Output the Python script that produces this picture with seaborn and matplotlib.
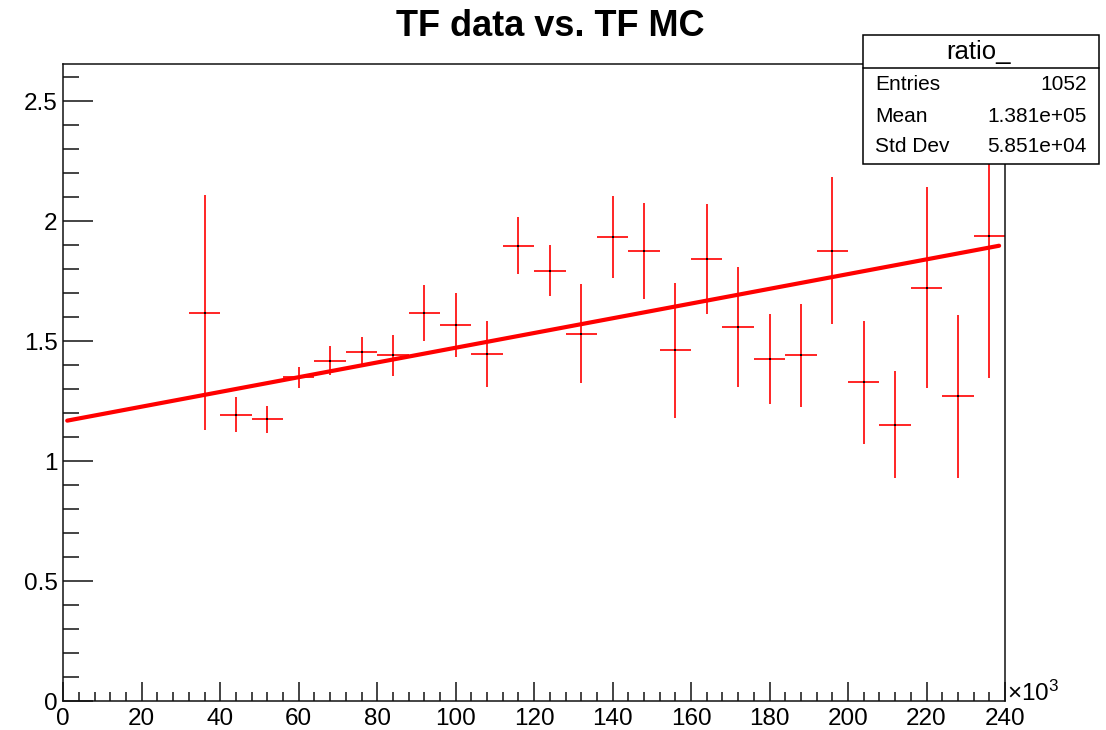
import numpy as np
import pandas as pd
import matplotlib
matplotlib.use("Agg")
import matplotlib.pyplot as plt
import seaborn as sns
from matplotlib.patches import Rectangle
from matplotlib.ticker import MultipleLocator, FuncFormatter

# bin centres (x10^3), ratio values and their errors
bin_centers = [36, 44, 52, 60, 68, 76, 84, 92, 100, 108, 116, 124, 132,
               140, 148, 156, 164, 172, 180, 188, 196, 204, 212, 220, 228, 236]
ratio = [1.618, 1.194, 1.174, 1.349, 1.419, 1.455, 1.441, 1.618, 1.568, 1.448,
         1.899, 1.795, 1.532, 1.934, 1.878, 1.462, 1.843, 1.561, 1.427, 1.441,
         1.878, 1.329, 1.152, 1.724, 1.271, 1.941]
ratio_err = [0.49, 0.074, 0.058, 0.042, 0.06, 0.061, 0.087, 0.115, 0.134, 0.137,
             0.12, 0.105, 0.207, 0.172, 0.2, 0.28, 0.23, 0.25, 0.187, 0.215,
             0.305, 0.256, 0.224, 0.418, 0.34, 0.594]
half_bin = 4

# linear fit parameters and range
fit_p0 = 1.166
fit_p1 = 0.003071
fit_range = [1.0, 238.5]

stats_labels = ["Entries", "Mean", "Std Dev"]
stats_values = ["1052", "1.381e+05", "5.851e+04"]


def main():
    sns.set_style("white")
    plt.rcParams["font.family"] = ["Liberation Sans", "DejaVu Sans"]
    plt.rcParams["mathtext.fontset"] = "custom"
    plt.rcParams["mathtext.rm"] = "Liberation Sans"
    plt.rcParams["text.color"] = "black"

    W, H = 1106, 730
    fig = plt.figure(figsize=(W / 100, H / 100), dpi=100)
    ax = fig.add_axes([63.3 / W, 29 / H, (1005 - 63.3) / W, (701 - 64.3) / H])

    df = pd.DataFrame({"x": bin_centers, "y": ratio, "err": ratio_err})
    ax.errorbar(df["x"], df["y"], xerr=half_bin, yerr=df["err"], fmt="none",
                ecolor="#ff0000", elinewidth=1.2, capsize=0, zorder=2)
    sns.scatterplot(data=df, x="x", y="y", color="black", s=3, marker="s",
                    linewidth=0, ax=ax, zorder=3)

    fx = np.array(fit_range)
    fit_df = pd.DataFrame({"x": fx, "y": fit_p0 + fit_p1 * fx})
    sns.lineplot(data=fit_df, x="x", y="y", color="#ff0000", linewidth=3.0,
                 ax=ax, zorder=4)

    ax.set_xlim(0, 240)
    ax.set_ylim(0, 2.655)
    ax.set_xlabel("")
    ax.set_ylabel("")
    ax.xaxis.set_major_locator(MultipleLocator(20))
    ax.xaxis.set_minor_locator(MultipleLocator(4))
    ax.yaxis.set_major_locator(MultipleLocator(0.5))
    ax.yaxis.set_minor_locator(MultipleLocator(0.1))
    ax.yaxis.set_major_formatter(FuncFormatter(lambda v, p: "%g" % v))
    ax.xaxis.set_major_formatter(FuncFormatter(lambda v, p: "%g" % v))

    ax.tick_params(axis="both", which="both", direction="in", color="#111111",
                   labelcolor="black", width=1.1, labelsize=17.5, top=False,
                   right=False, bottom=True, left=True)
    ax.tick_params(axis="x", which="major", length=13.5, pad=5)
    ax.tick_params(axis="x", which="minor", length=6.5)
    ax.tick_params(axis="y", which="major", length=21.5, pad=4)
    ax.tick_params(axis="y", which="minor", length=11.5)
    for sp in ax.spines.values():
        sp.set_color("#111111")
        sp.set_linewidth(1.1)
        sp.set_visible(True)

    fig.text(550 / W, 1 - 26 / H, "TF data vs. TF MC", ha="center", va="center",
             fontsize=26, fontweight="bold", color="black")
    fig.text(1007 / W, 1 - 701 / H, r"$\mathregular{\times10^{3}}$",
             ha="left", va="baseline", fontsize=17.5, color="black")

    # stats box
    bx0, bx1, by0, by1 = 863, 1099, 35, 164
    fig.patches.append(Rectangle((bx0 / W, 1 - by1 / H), (bx1 - bx0) / W,
                                 (by1 - by0) / H, transform=fig.transFigure,
                                 facecolor="white", edgecolor="black",
                                 linewidth=1.1, zorder=5))
    fig.add_artist(plt.Line2D([bx0 / W, bx1 / W], [1 - 67.7 / H, 1 - 67.7 / H],
                              transform=fig.transFigure, color="black",
                              linewidth=1.1, zorder=6))
    fig.text(978 / W, 1 - 52 / H, "ratio_", ha="center", va="center",
             fontsize=18.5, color="black", zorder=7)
    for i, (lab, val) in enumerate(zip(stats_labels, stats_values)):
        yy = 1 - (85 + i * 31) / H
        fig.text(875 / W, yy, lab, ha="left", va="center", fontsize=15,
                 color="black", zorder=7)
        fig.text(1087 / W, yy, val, ha="right", va="center", fontsize=15,
                 color="black", zorder=7)

    fig.savefig("out.png", dpi=100, facecolor="white")


if __name__ == "__main__":
    main()
